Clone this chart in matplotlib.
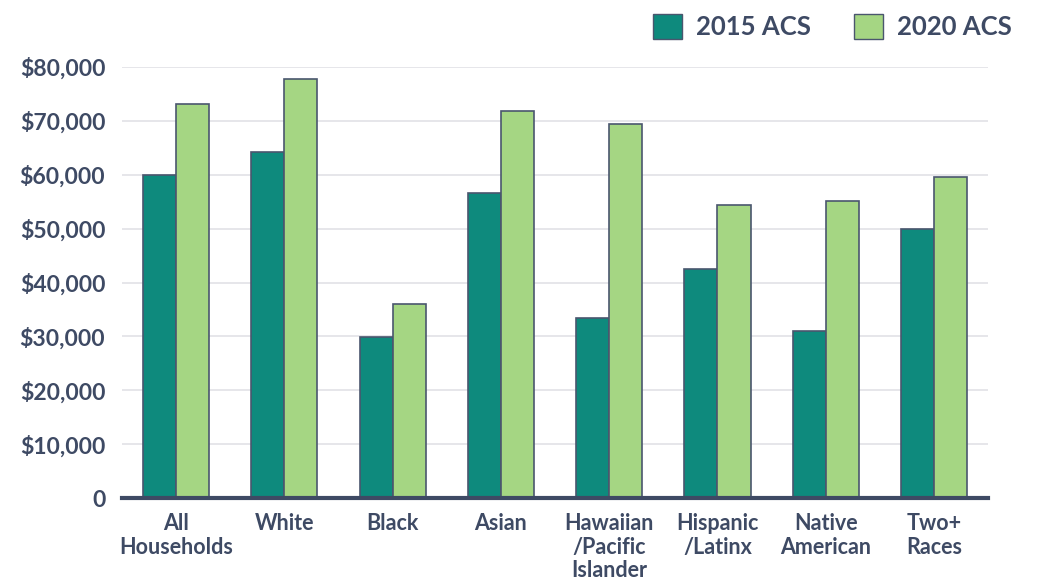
import matplotlib.pyplot as plt
import numpy as np
from matplotlib.patches import Patch
from matplotlib.ticker import FuncFormatter

categories = ['All\nHouseholds', 'White', 'Black', 'Asian', 'Hawaiian\n/Pacific\nIslander',
              'Hispanic\n/Latinx', 'Native\nAmerican', 'Two+\nRaces']
acs_2015 = [60000, 64200, 29900, 56600, 33400, 42500, 31000, 50000]
acs_2020 = [73100, 77700, 36000, 71900, 69400, 54400, 55100, 59600]

teal = '#0e8a7d'
light = '#a5d683'
edge = '#4a566e'
text_c = '#3e4a64'

plt.rcParams['font.family'] = ['Lato', 'DejaVu Sans']
plt.rcParams['font.weight'] = 'bold'

fig = plt.figure(figsize=(10.38, 5.82), dpi=100)
ax = fig.add_axes([0.1175, 0.1443, 0.8345, 0.7406])

x = np.arange(len(categories))
w = 0.305
ax.bar(x - w / 2, acs_2015, w, color=teal, edgecolor=edge, linewidth=1.2, zorder=3)
ax.bar(x + w / 2, acs_2020, w, color=light, edgecolor=edge, linewidth=1.2, zorder=3)

ax.set_xlim(-0.5, len(categories) - 0.5)
ax.set_ylim(0, 80000)
ax.set_yticks(np.arange(0, 80001, 10000))
ax.yaxis.set_major_formatter(FuncFormatter(lambda v, p: '0' if v == 0 else f'${v:,.0f}'))
ax.grid(axis='y', color='#e2e2e6', linewidth=1.2, zorder=0)
ax.set_axisbelow(True)

for s in ['top', 'right', 'left']:
    ax.spines[s].set_visible(False)
ax.spines['bottom'].set_color(text_c)
ax.spines['bottom'].set_linewidth(3)
ax.spines['bottom'].set_zorder(4)

ax.set_xticks(x)
ax.set_xticklabels(categories, fontsize=15.5, color=text_c, linespacing=1.15, va='top')
ax.tick_params(axis='x', length=0, pad=11)
ax.tick_params(axis='y', length=0, pad=12, labelsize=16.5, labelcolor=text_c)

handles = [Patch(facecolor=teal, edgecolor=edge, label='2015 ACS'),
           Patch(facecolor=light, edgecolor=edge, label='2020 ACS')]
fig.legend(handles=handles, loc='upper right', bbox_to_anchor=(0.997, 1.015), ncol=2,
           frameon=False, fontsize=18.5, labelcolor=text_c, handlelength=1.1, handleheight=1.1,
           columnspacing=1.7, handletextpad=0.55)

plt.savefig('out.png', dpi=100)
